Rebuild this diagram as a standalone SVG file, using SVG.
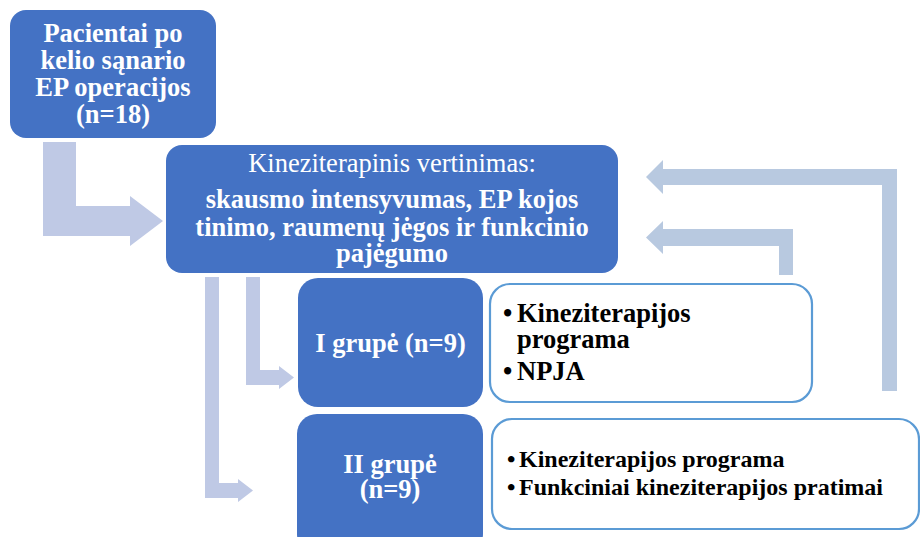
<svg xmlns="http://www.w3.org/2000/svg" width="920" height="537" viewBox="0 0 920 537">
<style>
.node{fill:#4472C4;}
.list{fill:#FFFFFF;stroke:#5B9BD5;stroke-width:2.2;}
.t{font-family:"Liberation Serif","Times New Roman",serif;fill:#FFFFFF;text-anchor:middle;font-size:26.5px;}
.b{font-weight:bold;}
.l{font-family:"Liberation Serif","Times New Roman",serif;fill:#000000;font-weight:bold;}
.arrL{fill:#BFC9E5;}
.arrR{fill:#B8C9E0;}
</style>
<rect width="920" height="537" fill="#FFFFFF"/>
<g id="connectors">
<polygon class="arrL" points="43,142 76,142 76,206 130,206 130,196 163,221 130,246 130,236 43,236"/>
<polygon class="arrL" points="246,277 260,277 260,370 279,370 279,366 294,377.5 279,389 279,385 246,385"/>
<polygon class="arrL" points="205,277 219,277 219,483 238,483 238,479 253,490.5 238,502 238,498 205,498"/>
<polygon class="arrR" points="897,391 882,391 882,185 663,185 663,194 646,177 663,160 663,169 897,169"/>
<polygon class="arrR" points="793,275 779,275 779,246 663,246 663,254 646,237.5 663,221 663,229 793,229"/>
</g>
<g id="patients">
<rect class="node" x="10" y="10" width="206" height="128" rx="16"/>
<text class="t b"><tspan x="113" y="42">Pacientai po</tspan><tspan x="113" y="69">kelio sąnario</tspan><tspan x="113" y="96">EP operacijos</tspan><tspan x="113" y="123">(n=18)</tspan></text>
</g>
<g id="assessment">
<rect class="node" x="166" y="145" width="452" height="128" rx="16"/>
<text class="t" x="392" y="172">Kineziterapinis vertinimas:</text>
<text class="t b"><tspan x="392" y="208">skausmo intensyvumas, EP kojos</tspan><tspan x="392" y="236">tinimo, raumenų jėgos ir funkcinio</tspan><tspan x="392" y="262">pajėgumo</tspan></text>
</g>
<g id="group1">
<rect class="node" x="298" y="278" width="185" height="129" rx="20"/>
<text class="t b" x="390.5" y="352">I grupė (n=9)</text>
</g>
<g id="group2">
<rect class="node" x="297" y="414" width="186" height="140" rx="20"/>
<text class="t b"><tspan x="390" y="473">II grupė</tspan><tspan x="390" y="498">(n=9)</tspan></text>
</g>
<g id="program1">
<rect class="list" x="490" y="284" width="322" height="118" rx="20"/>
<text class="l" font-size="26.5"><tspan x="503" y="322">•</tspan><tspan x="517" y="322">Kineziterapijos</tspan><tspan x="517" y="348">programa</tspan><tspan x="503" y="380">•</tspan><tspan x="517" y="380">NPJA</tspan></text>
</g>
<g id="program2">
<rect class="list" x="492" y="419" width="427" height="110" rx="20"/>
<text class="l" font-size="24"><tspan x="507" y="467">•</tspan><tspan x="519" y="467">Kineziterapijos programa</tspan><tspan x="507" y="495">•</tspan><tspan x="519" y="495">Funkciniai kineziterapijos pratimai</tspan></text>
</g>
</svg>
